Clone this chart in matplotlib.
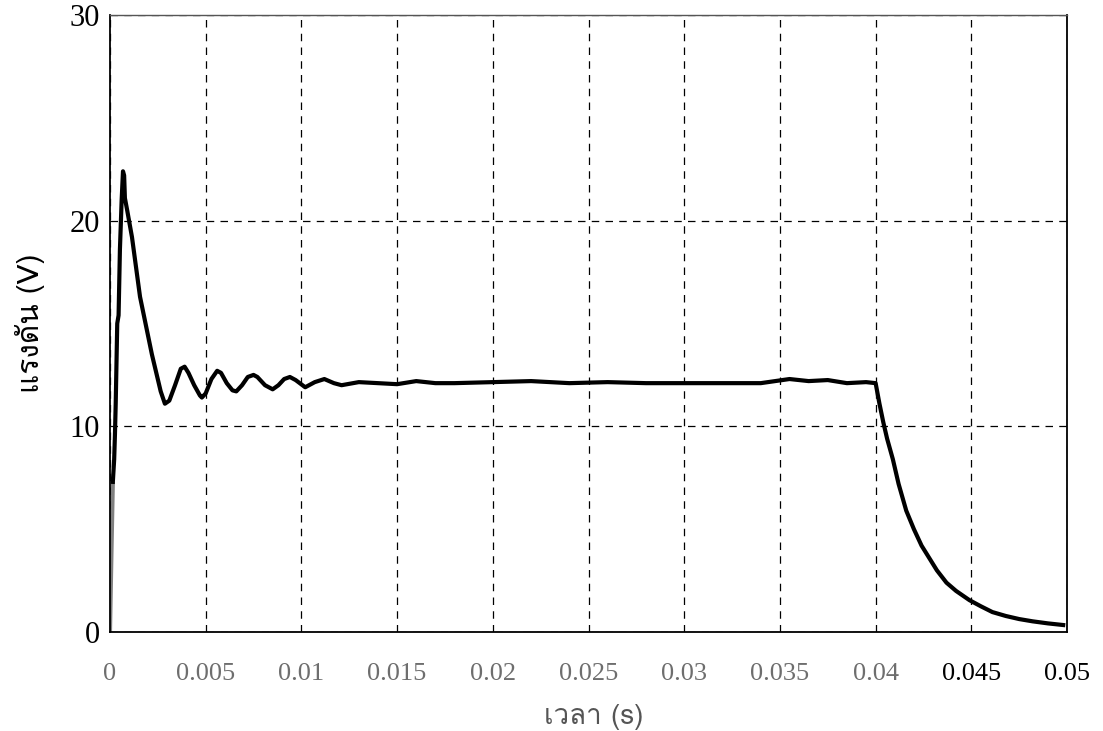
import matplotlib
matplotlib.use("Agg")
import matplotlib.pyplot as plt
import matplotlib.font_manager as fm
from matplotlib.ft2font import FT2Font

# pick an installed font that actually carries Thai glyphs
thai_family = None
for entry in fm.fontManager.ttflist:
    try:
        cmap = FT2Font(entry.fname).get_charmap()
    except Exception:
        continue
    if 0x0E23 in cmap and 0x0E40 in cmap:
        thai_family = entry.name
        break
label_family = [thai_family, "DejaVu Sans"] if thai_family else ["DejaVu Sans"]

# output voltage of the converter during start-up and shut-down
t_start = [0.0, 0.00008, 0.00015]
v_start = [0.0, 4.0, 7.3]

t_main = [0.00015, 0.00022, 0.00026, 0.00030, 0.00038, 0.00045, 0.00052,
          0.00061, 0.00068, 0.00074, 0.00078, 0.00090, 0.00115, 0.00157,
          0.00219, 0.00265, 0.00287, 0.0031, 0.0034, 0.0037, 0.0039, 0.0041,
          0.0044, 0.0047, 0.0048, 0.0050, 0.0053, 0.0056, 0.0058, 0.0061,
          0.0064, 0.0066, 0.0069, 0.0072, 0.0075, 0.0077, 0.0081, 0.0085,
          0.0088, 0.0091, 0.0094, 0.0097, 0.0102, 0.0107, 0.0112, 0.0117,
          0.0121, 0.0130, 0.0140, 0.0150, 0.0160, 0.0170, 0.0180, 0.0200,
          0.0220, 0.0240, 0.0260, 0.0280, 0.0300, 0.0320, 0.0340, 0.0355,
          0.0365, 0.0375, 0.0385, 0.0395, 0.0400,
          0.0402, 0.0404, 0.0406, 0.0409, 0.0412, 0.0416, 0.0420, 0.0424,
          0.0428, 0.0432, 0.0437, 0.0442, 0.0449, 0.0455, 0.0461, 0.0468,
          0.0475, 0.0482, 0.0490, 0.0498]
v_main = [7.3, 8.4, 9.6, 11.1, 15.0, 15.4, 18.6,
          21.0, 22.4, 22.2, 21.1, 20.5, 19.2, 16.3,
          13.5, 11.7, 11.1, 11.25, 12.0, 12.8, 12.9, 12.6,
          12.0, 11.5, 11.4, 11.6, 12.3, 12.7, 12.6, 12.1,
          11.75, 11.7, 12.0, 12.4, 12.5, 12.4, 12.0, 11.8,
          12.0, 12.3, 12.4, 12.25, 11.9, 12.15, 12.3, 12.1,
          12.0, 12.15, 12.1, 12.05, 12.2, 12.1, 12.1, 12.15,
          12.2, 12.1, 12.15, 12.1, 12.1, 12.1, 12.1, 12.3,
          12.2, 12.25, 12.1, 12.15, 12.1,
          11.1, 10.2, 9.4, 8.4, 7.2, 5.9, 5.0, 4.2,
          3.6, 3.0, 2.4, 2.0, 1.55, 1.25, 0.97, 0.78,
          0.63, 0.52, 0.42, 0.34]

x_ticks = [0, 0.005, 0.01, 0.015, 0.02, 0.025, 0.03, 0.035, 0.04, 0.045, 0.05]
x_tick_labels = ["0", "0.005", "0.01", "0.015", "0.02", "0.025", "0.03",
                 "0.035", "0.04", "0.045", "0.05"]
y_ticks = [0, 10, 20, 30]
y_tick_labels = ["0", "10", "20", "30"]

fig = plt.figure(figsize=(11.03, 7.31), dpi=100)
ax = fig.add_axes([0.0997, 0.1354, 0.8677, 0.8441])

ax.plot(t_start, v_start, color="#808080", linewidth=3.0, solid_capstyle="butt")
ax.plot(t_main, v_main, color="black", linewidth=3.0, solid_joinstyle="round")

ax.set_xlim(0, 0.05)
ax.set_ylim(0, 30)
ax.set_xticks(x_ticks)
ax.set_yticks(y_ticks)
ax.set_xticklabels(x_tick_labels, family="Liberation Serif", fontsize=19)
ax.set_yticklabels(y_tick_labels, family="Liberation Serif", fontsize=22)
for lbl in ax.get_xticklabels()[:-2]:
    lbl.set_color("#6e6e6e")
ax.tick_params(axis="both", length=0)
ax.tick_params(axis="x", pad=22)
ax.tick_params(axis="y", pad=7)

ax.grid(True, color="black", linestyle=(0, (6, 5)), linewidth=0.9)
for side in ["left", "bottom", "right"]:
    ax.spines[side].set_linewidth(1.3)
    ax.spines[side].set_color("black")
ax.spines["top"].set_linewidth(1.0)
ax.spines["top"].set_color("#555555")

ax.set_xlabel("เวลา (s)", family=label_family, fontsize=20, color="#555555",
              va="center")
ax.xaxis.set_label_coords(0.505, -0.138)
ax.set_ylabel("แรงดัน (V)", family=label_family, fontsize=21.5, labelpad=18)

fig.savefig("out.png", dpi=100)
